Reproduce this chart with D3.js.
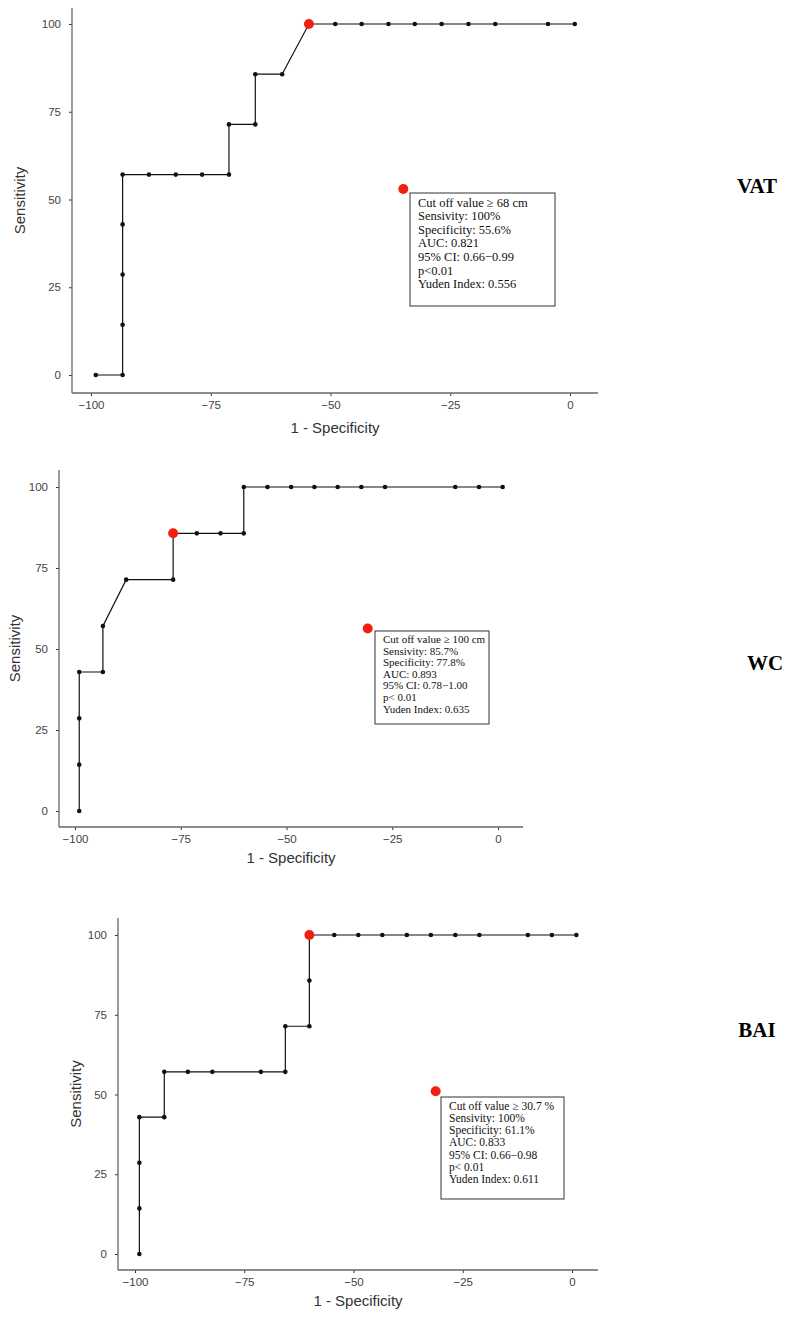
<!DOCTYPE html>
<html><head><meta charset="utf-8">
<script src="https://cdn.jsdelivr.net/npm/d3@7"></script>
<style>body{margin:0;background:#fff}</style></head>
<body><svg id="c" width="797" height="1321"></svg>
<script>
const xTicks=[-100,-75,-50,-25,0];
const yTicks=[0,25,50,75,100];
const vatX=[-99,-93.4,-93.4,-93.4,-93.4,-93.4,-87.9,-82.3,-76.8,-71.2,-71.2,-65.7,-65.7,-60.1,-54.5,-49,-43.5,-37.9,-32.4,-26.8,-21.2,-15.6,-4.6,1];
const vatY=[0,0,14.3,28.6,42.9,57.1,57.1,57.1,57.1,57.1,71.4,71.4,85.7,85.7,100,100,100,100,100,100,100,100,100,100];
const wcX=[-99,-99,-99,-99,-93.4,-93.4,-87.9,-76.8,-76.8,-71.2,-65.6,-60.1,-60.1,-54.5,-48.9,-43.4,-37.9,-32.3,-26.7,-10.1,-4.5,1.1];
const wcY=[0,14.3,28.6,42.9,42.9,57.1,71.4,71.4,85.7,85.7,85.7,85.7,100,100,100,100,100,100,100,100,100,100];
const baiX=[-99,-99,-99,-99,-93.3,-93.3,-87.9,-82.3,-71.2,-65.6,-65.6,-60.1,-60.1,-60.1,-54.4,-48.9,-43.4,-37.8,-32.3,-26.7,-21.2,-10.1,-4.6,1];
const baiY=[0,14.3,28.6,42.9,42.9,57.1,57.1,57.1,57.1,57.1,71.4,71.4,85.7,100,100,100,100,100,100,100,100,100,100,100];
const optimal=[[-54.5,100],[-76.8,85.7],[-60.1,100]];
const labelDot=[[-34.8,53],[-30.8,56.3],[-31.2,51]];
const names=["VAT","WC","BAI"];
const boxTexts=[
["Cut off value ≥ 68 cm","Sensivity: 100%","Specificity: 55.6%","AUC: 0.821","95% CI: 0.66−0.99","p<0.01","Yuden Index: 0.556"],
["Cut off value ≥ 100 cm","Sensivity: 85.7%","Specificity: 77.8%","AUC: 0.893","95% CI: 0.78−1.00","p< 0.01","Yuden Index: 0.635"],
["Cut off value ≥ 30.7 %","Sensivity: 100%","Specificity: 61.1%","AUC: 0.833","95% CI: 0.66−0.98","p< 0.01","Yuden Index: 0.611"]];
const seriesX=[vatX,wcX,baiX], seriesY=[vatY,wcY,baiY];
// layout
const L=[
 {ax:72,axEnd:598,x0:91,x1:570,ay:393,aTop:8,y100:24,y0:375,box:[410,193,555,306],font:12.5,lab:[757,193],lh:13.6,xt:433,yt:20},
 {ax:59,axEnd:523,x0:75,x1:498,ay:827,aTop:470,y100:487,y0:811,box:[375,631,489,724],font:11,lab:[765,670],lh:11.6,xt:863,yt:15},
 {ax:118,axEnd:598,x0:135,x1:572,ay:1270,aTop:918,y100:935,y0:1254,box:[441,1097,564,1199],font:11.5,lab:[757,1037],lh:12.3,xt:1306,yt:76}
];
const svg=d3.select("#c");
L.forEach((p,i)=>{
 const x=d3.scaleLinear().domain([-100,0]).range([p.x0,p.x1]);
 const y=d3.scaleLinear().domain([0,100]).range([p.y0,p.y100]);
 const g=svg.append("g");
 const xa=g.append("g").attr("transform",`translate(0,${p.ay})`).call(d3.axisBottom(x).tickValues(xTicks).tickSize(3).tickPadding(5).tickFormat(d=>d===0?"0":"−"+Math.abs(d)));
 const ya=g.append("g").attr("transform",`translate(${p.ax},0)`).call(d3.axisLeft(y).tickValues(yTicks).tickSize(3).tickPadding(8));
 [xa,ya].forEach(a=>{a.select(".domain").remove();a.selectAll("line").attr("stroke","#333");
   a.selectAll("text").attr("font-family","Liberation Sans, Arial, sans-serif").attr("font-size",11.5).attr("fill","#444");});
 g.append("line").attr("x1",p.ax).attr("x2",p.axEnd).attr("y1",p.ay).attr("y2",p.ay).attr("stroke","#666").attr("stroke-width",1.3);
 g.append("line").attr("x1",p.ax).attr("x2",p.ax).attr("y1",p.aTop).attr("y2",p.ay).attr("stroke","#666").attr("stroke-width",1.3);
 g.append("text").attr("x",(p.ax+p.axEnd)/2).attr("y",p.xt).attr("text-anchor","middle").attr("font-family","Liberation Sans, Arial, sans-serif").attr("font-size",15).attr("fill","#333").text("1 - Specificity");
 g.append("text").attr("transform",`translate(${p.yt},${(p.aTop+p.ay)/2}) rotate(-90)`).attr("text-anchor","middle").attr("dy","0.35em").attr("font-family","Liberation Sans, Arial, sans-serif").attr("font-size",15).attr("fill","#333").text("Sensitivity");
 const pts=seriesX[i].map((v,k)=>[v,seriesY[i][k]]);
 g.append("path").attr("d",d3.line().x(d=>x(d[0])).y(d=>y(d[1]))(pts)).attr("fill","none").attr("stroke","#111").attr("stroke-width",1.2);
 g.selectAll(".pt").data(pts).join("circle").attr("cx",d=>x(d[0])).attr("cy",d=>y(d[1])).attr("r",2.3).attr("fill","#111");
 g.append("circle").attr("cx",x(optimal[i][0])).attr("cy",y(optimal[i][1])).attr("r",5).attr("fill","#f02010");
 g.append("circle").attr("cx",x(labelDot[i][0])).attr("cy",y(labelDot[i][1])).attr("r",5).attr("fill","#f02010");
 const b=p.box;
 g.append("rect").attr("x",b[0]).attr("y",b[1]).attr("width",b[2]-b[0]).attr("height",b[3]-b[1]).attr("fill","#fff").attr("stroke","#333").attr("stroke-width",1);
 boxTexts[i].forEach((t,k)=>g.append("text").attr("x",b[0]+8).attr("y",b[1]+p.font+1+k*p.lh).attr("font-family","Liberation Serif, Times New Roman, serif").attr("font-size",p.font).attr("fill","#111").text(t));
 g.append("text").attr("x",p.lab[0]).attr("y",p.lab[1]).attr("text-anchor","middle").attr("font-family","Liberation Serif, Times New Roman, serif").attr("font-weight","bold").attr("font-size",21).attr("fill","#000").text(names[i]);
});
</script></body></html>
